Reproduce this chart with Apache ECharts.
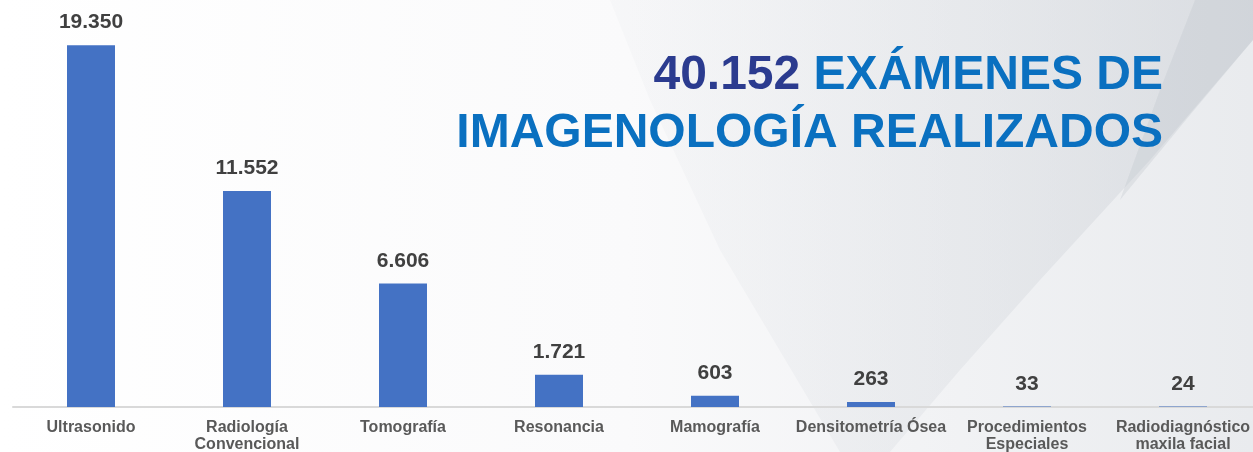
<!DOCTYPE html>
<html>
<head>
<meta charset="utf-8">
<script src="https://cdn.jsdelivr.net/npm/echarts@6/dist/echarts.min.js"></script>
<style>
  html, body { margin: 0; padding: 0; background: #fff; }
  #chart { width: 1253px; height: 452px; }
</style>
</head>
<body>
<div id="chart"></div>
<script>
  // datos de la grafica
  const categorias = [
    'Ultrasonido', 'Radiología\nConvencional', 'Tomografía', 'Resonancia',
    'Mamografía', 'Densitometría Ósea', 'Procedimientos\nEspeciales', 'Radiodiagnóstico\nmaxila facial'
  ];
  const examenes = [19350, 11552, 6606, 1721, 603, 263, 33, 24];
  const totalTexto = '40.152';

  // 19350 -> "19.350"
  function miles(v) {
    return String(v).replace(/\B(?=(\d{3})+(?!\d))/g, '.');
  }

  const fuente = 'Liberation Sans, Arial, sans-serif';
  const estiloTitulo = { fontSize: 48, fontWeight: 'bold', fontFamily: fuente };
  const chart = echarts.init(document.getElementById('chart'));

  const option = {
    backgroundColor: {
      type: 'linear', x: 0, y: 0, x2: 1, y2: 0,
      colorStops: [
        { offset: 0, color: '#ffffff' },
        { offset: 0.5, color: '#fafafb' },
        { offset: 1, color: '#e9ebee' }
      ]
    },
    graphic: [
      {
        // forma gris de fondo (diagonal)
        type: 'polygon',
        z: -10,
        silent: true,
        shape: {
          points: [[610, 0], [1253, 0], [1253, 40], [1150, 160], [1040, 280], [960, 370], [890, 452], [840, 452], [720, 250], [650, 100]]
        },
        style: {
          fill: {
            type: 'linear', x: 0, y: 0, x2: 1, y2: 0,
            colorStops: [
              { offset: 0, color: 'rgba(225,228,232,0.15)' },
              { offset: 1, color: 'rgba(205,209,215,0.55)' }
            ]
          }
        }
      },
      {
        type: 'polygon',
        z: -10,
        silent: true,
        shape: {
          points: [[1195, 0], [1253, 0], [1253, 40], [1190, 115], [1120, 200], [1160, 90]]
        },
        style: { fill: 'rgba(190,195,202,0.3)' }
      },
      {
        // titulo, linea 1
        type: 'text',
        right: 90,
        top: 52,
        z: 10,
        style: {
          text: '{a|' + totalTexto + '} {b|EXÁMENES DE}',
          fontSize: 48, fontWeight: 'bold', fontFamily: fuente,
          rich: {
            a: Object.assign({ fill: '#2B3B8F' }, estiloTitulo),
            b: Object.assign({ fill: '#0A70C0' }, estiloTitulo)
          }
        }
      },
      {
        // titulo, linea 2
        type: 'text',
        right: 90,
        top: 110,
        z: 10,
        style: {
          text: 'IMAGENOLOGÍA REALIZADOS',
          fill: '#0A70C0',
          fontSize: 48, fontWeight: 'bold', fontFamily: fuente
        }
      }
    ],
    grid: {
      left: 13,
      right: -8,
      top: 33,
      bottom: 45,
      outerBoundsMode: 'none'
    },
    xAxis: {
      type: 'category',
      data: categorias,
      axisLine: { lineStyle: { color: '#d9d9d9', width: 2 } },
      axisTick: { show: false },
      axisLabel: {
        interval: 0,
        color: '#595959',
        fontSize: 16,
        fontWeight: 'bold',
        lineHeight: 17,
        margin: 12,
        fontFamily: fuente
      }
    },
    yAxis: {
      type: 'value',
      min: 0,
      max: 20000,
      show: false,
      splitLine: { show: false }
    },
    series: [
      {
        type: 'bar',
        data: examenes,
        barWidth: 48,
        itemStyle: { color: '#4472C4' },
        label: {
          show: true,
          position: 'top',
          distance: 12,
          color: '#404040',
          fontSize: 21,
          fontWeight: 'bold',
          fontFamily: fuente,
          formatter: p => miles(p.value)
        }
      }
    ]
  };

  chart.setOption(option);
</script>
</body>
</html>
